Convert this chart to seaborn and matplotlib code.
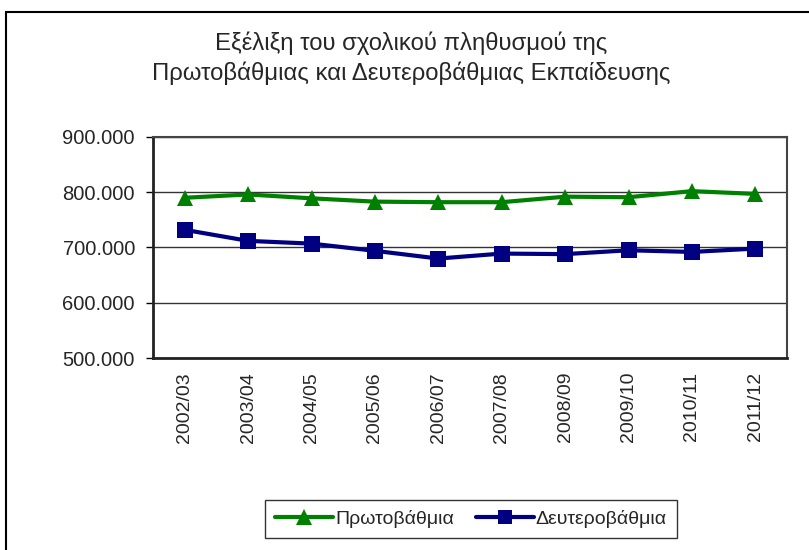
import pandas as pd
import matplotlib
matplotlib.use("Agg")
import matplotlib.pyplot as plt
import seaborn as sns
from matplotlib.ticker import FuncFormatter, FixedLocator
from matplotlib.patches import Rectangle

# ==========================================
# DATA
# ==========================================

years = ["2002/03", "2003/04", "2004/05", "2005/06", "2006/07",
         "2007/08", "2008/09", "2009/10", "2010/11", "2011/12"]
primary = [790000, 796000, 789000, 783000, 782000, 782000, 792000, 791000, 802000, 797000]
secondary = [732000, 712000, 707000, 694000, 680000, 689000, 688000, 695000, 692000, 698000]

series_names = ["Πρωτοβάθμια", "Δευτεροβάθμια"]
title = "Εξέλιξη του σχολικού πληθυσμού της\nΠρωτοβάθμιας και Δευτεροβάθμιας Εκπαίδευσης"

df = pd.DataFrame({
    "year": years * 2,
    "pupils": primary + secondary,
    "level": [series_names[0]] * len(years) + [series_names[1]] * len(years),
})

# ==========================================
# STYLE
# ==========================================

sns.set_style("white")
plt.rcParams["font.family"] = ["Liberation Sans", "DejaVu Sans"]
plt.rcParams["font.size"] = 14

W, H = 809, 550
fig = plt.figure(figsize=(W / 100, H / 100), dpi=100)
ax = fig.add_axes([153 / W, 1 - 358 / H, (787 - 153) / W, (358 - 137) / H])

# ==========================================
# LINE PLOT
# ==========================================

sns.lineplot(data=df, x="year", y="pupils", hue="level", style="level",
             markers={series_names[0]: "^", series_names[1]: "s"},
             dashes=False, palette={series_names[0]: "#008000", series_names[1]: "#000080"},
             linewidth=3, markersize=11, markeredgewidth=0, ax=ax, legend=False)

ax.set_xlim(-0.5, len(years) - 0.5)
ax.set_ylim(500000, 900000)
ax.set_xlabel("")
ax.set_ylabel("")

ax.yaxis.set_major_locator(FixedLocator([500000, 600000, 700000, 800000, 900000]))
ax.yaxis.set_major_formatter(FuncFormatter(lambda v, p: f"{int(v):,}".replace(",", ".")))
ax.grid(axis="y", color="#333333", linewidth=1)
ax.set_axisbelow(True)

ax.set_xticks(range(len(years)))
ax.set_xticklabels(years, rotation=90, fontsize=14)
ax.xaxis.set_minor_locator(FixedLocator([i - 0.5 for i in range(len(years) + 1)]))
ax.tick_params(axis="x", which="major", length=0, pad=10)
ax.tick_params(axis="x", which="minor", length=5, width=1, direction="out", color="black")
ax.tick_params(axis="y", length=5, width=1, direction="out", color="black", pad=8,
               left=True, labelsize=14.5)

for side in ["top", "right"]:
    ax.spines[side].set_color("#444444")
    ax.spines[side].set_linewidth(1.5)
for side in ["left", "bottom"]:
    ax.spines[side].set_color("#222222")
    ax.spines[side].set_linewidth(2)

# ==========================================
# TITLE, LEGEND, BORDER
# ==========================================

fig.text(411 / W, 1 - 58 / H, title, ha="center", va="center", fontsize=17.2, linespacing=1.35)

handles = [
    plt.Line2D([], [], color="#008000", lw=3, marker="^", markersize=11, markeredgewidth=0),
    plt.Line2D([], [], color="#000080", lw=3, marker="s", markersize=10, markeredgewidth=0),
]
leg = fig.legend(handles, series_names, loc="center", ncol=2,
                 bbox_to_anchor=(471 / W, 1 - 519 / H), bbox_transform=fig.transFigure,
                 frameon=True, fancybox=False, edgecolor="black", handlelength=3,
                 handletextpad=0.1, columnspacing=1.1, borderpad=0.5, borderaxespad=0,
                 fontsize=14)
leg.get_frame().set_linewidth(1)

fig.add_artist(Rectangle((6 / W, -0.1), 2, 1 - 12 / H + 0.1, transform=fig.transFigure,
                         fill=False, edgecolor="black", linewidth=1.5))

plt.savefig("out.png", dpi=100)
